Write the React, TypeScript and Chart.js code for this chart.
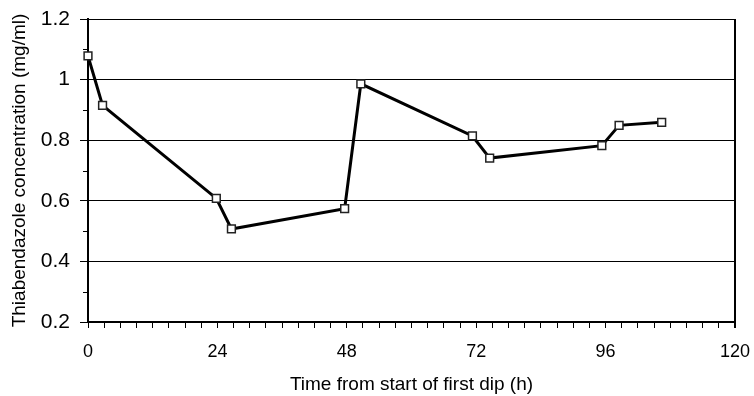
import React, { useEffect, useRef } from "react";
import { Chart, registerables } from "chart.js";

Chart.register(...registerables);

const hours = [0, 2.7, 23.8, 26.6, 47.6, 50.6, 71.3, 74.5, 95.3, 98.5, 106.4];
const concentration = [1.078, 0.915, 0.608, 0.507, 0.574, 0.986, 0.814, 0.741, 0.782, 0.849, 0.859];
const xTickLabels = [0, 24, 48, 72, 96, 120];
const yTickLabels = [0.2, 0.4, 0.6, 0.8, 1, 1.2];
const yMinorTicks = [0.3, 0.5, 0.7, 0.9, 1.1];

const FONT = "'Liberation Sans', Arial, sans-serif";

const extras = {
  id: "extras",
  afterDraw(chart: any) {
    const { ctx, chartArea, scales } = chart;
    ctx.save();
    ctx.strokeStyle = "#000";
    ctx.lineWidth = 2;
    ctx.beginPath();
    ctx.moveTo(chartArea.right, chartArea.top);
    ctx.lineTo(chartArea.right, chartArea.bottom + 6);
    ctx.stroke();
    ctx.lineWidth = 1;
    ctx.beginPath();
    for (const v of yMinorTicks) {
      const y = Math.round(scales.y.getPixelForValue(v)) + 0.5;
      ctx.moveTo(chartArea.left - 5, y);
      ctx.lineTo(chartArea.left, y);
    }
    ctx.stroke();
    ctx.restore();
  },
};

export default function App() {
  const ref = useRef<HTMLCanvasElement | null>(null);
  useEffect(() => {
    document.body.style.margin = "0";
    if (!ref.current) return;
    const chart = new Chart(ref.current, {
      type: "line",
      data: {
        datasets: [
          {
            data: hours.map((h, i) => ({ x: h, y: concentration[i] })),
            borderColor: "#000",
            borderWidth: 3,
            tension: 0,
            clip: false,
            pointStyle: "rect",
            pointRadius: 5.5,
            pointBackgroundColor: "#fff",
            pointBorderColor: "#222",
            pointBorderWidth: 1.5,
          },
        ],
      },
      options: {
        animation: false,
        responsive: false,
        layout: { padding: { left: 4, right: 19, top: 19, bottom: 0 } },
        plugins: { legend: { display: false }, tooltip: { enabled: false } },
        scales: {
          x: {
            type: "linear",
            min: 0,
            max: 120,
            afterFit(scale: any) {
              scale.height = 396 - 322;
              scale.paddingLeft = 0;
              scale.paddingRight = 0;
            },
            ticks: {
              stepSize: 3,
              autoSkip: false,
              maxRotation: 0,
              color: "#000",
              font: { family: FONT, size: 18 },
              padding: 13,
              callback: (v: any) => (xTickLabels.includes(Number(v)) ? String(v) : ""),
            },
            grid: { drawOnChartArea: false, drawTicks: true, tickLength: 6, color: "#000" },
            border: { display: true, color: "#000", width: 1.5 },
            title: {
              display: true,
              text: "Time from start of first dip (h)",
              color: "#000",
              font: { family: FONT, size: 19 },
              padding: { top: 0, bottom: 0 },
            },
          },
          y: {
            min: 0.2,
            max: 1.2,
            afterFit(scale: any) {
              scale.width = 88 - 4;
              scale.paddingTop = 0;
              scale.paddingBottom = 0;
            },
            afterBuildTicks(scale: any) {
              scale.ticks = yTickLabels.map((v) => ({ value: v }));
            },
            ticks: {
              autoSkip: false,
              color: "#000",
              font: { family: FONT, size: 21 },
              padding: 10,
              callback: (v: any) => String(Math.round(Number(v) * 10) / 10),
            },
            grid: {
              color: "#000",
              tickColor: "#000",
              tickLength: 8,
              lineWidth: 1,
            },
            border: { display: true, color: "#000", width: 2 },
            title: {
              display: true,
              text: "Thiabendazole concentration (mg/ml)",
              color: "#000",
              font: { family: FONT, size: 19 },
              padding: { top: 4, bottom: 0 },
            },
          },
        },
      },
      plugins: [extras],
    });
    return () => chart.destroy();
  }, []);
  return (
    <div style={{ width: 754, height: 396 }}>
      <canvas ref={ref} width={754} height={396} />
    </div>
  );
}
